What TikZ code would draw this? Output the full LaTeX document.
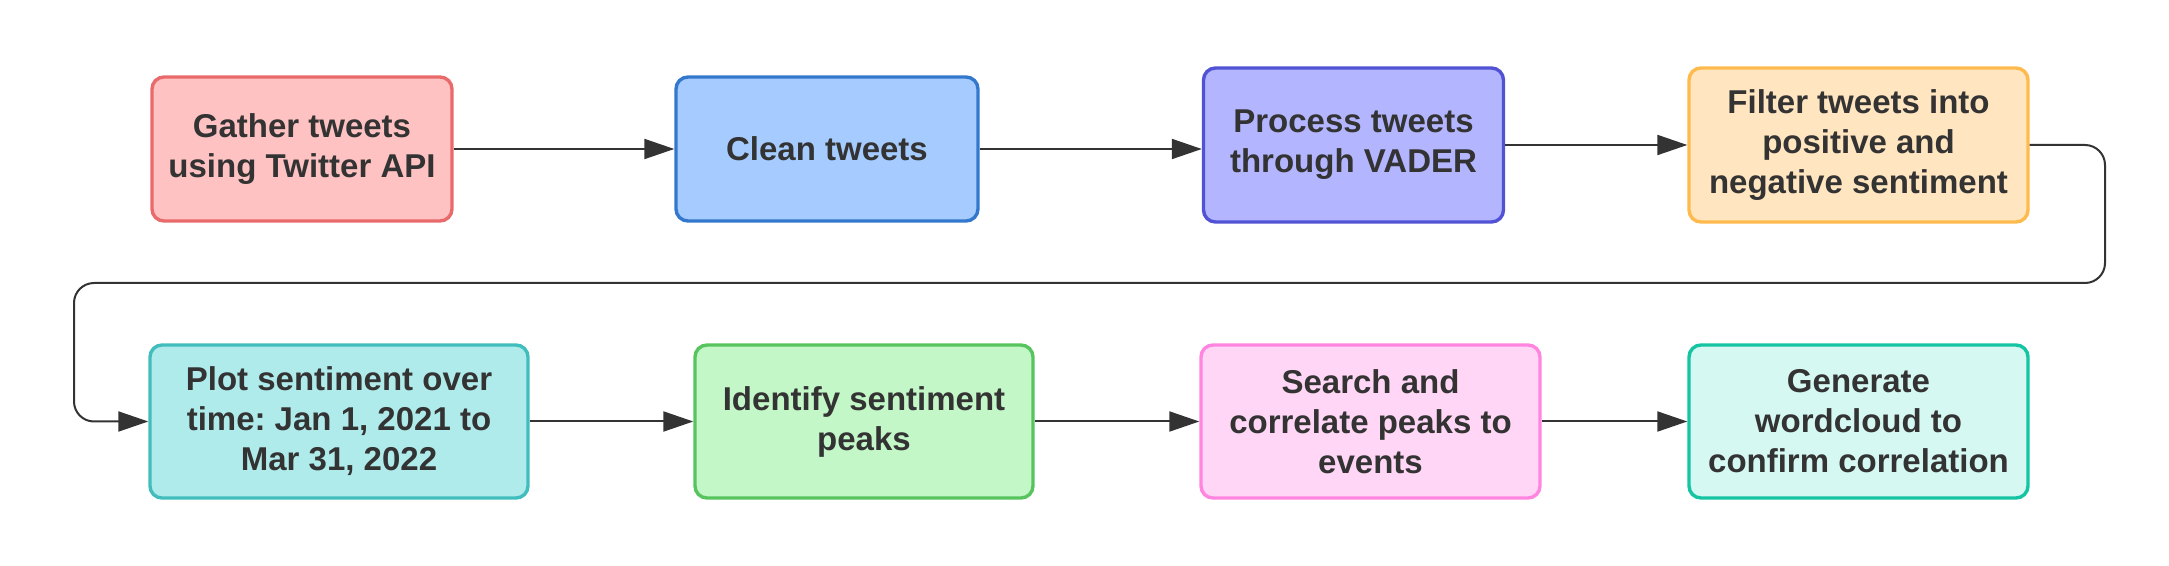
\documentclass[tikz,border=0pt]{standalone}
\usepackage{fontspec}
\setmainfont{Liberation Sans}
\usetikzlibrary{arrows.meta}
\frenchspacing

\definecolor{ink}{HTML}{333333}
\definecolor{redline}{HTML}{E86A6A}
\definecolor{redfill}{HTML}{FFC2C2}
\definecolor{blueline}{HTML}{3378CC}
\definecolor{bluefill}{HTML}{A6CCFF}
\definecolor{violetline}{HTML}{5252D4}
\definecolor{violetfill}{HTML}{B3B5FF}
\definecolor{orangeline}{HTML}{FFBA4D}
\definecolor{orangefill}{HTML}{FFE5C0}
\definecolor{tealline}{HTML}{42BDBD}
\definecolor{tealfill}{HTML}{B0EBEB}
\definecolor{greenline}{HTML}{57C45E}
\definecolor{greenfill}{HTML}{C3F7C8}
\definecolor{pinkline}{HTML}{FF85E0}
\definecolor{pinkfill}{HTML}{FFD6F5}
\definecolor{mintline}{HTML}{14C4A2}
\definecolor{mintfill}{HTML}{D6F8F2}

\tikzset{
  box/.style={draw, rounded corners=6pt, line width=1.7pt, align=center,
    text=ink, inner sep=0pt, font=\fontsize{16.5}{20}\selectfont\bfseries},
  link/.style={-{Triangle[length=15pt,width=10pt]}, line width=1pt, draw=ink}
}

\begin{document}
\begin{tikzpicture}[x=0.5pt,y=-0.5pt]
\useasboundingbox (0,0) rectangle (2169,566);
% first row
\node[box, draw=redline, fill=redfill, minimum width=150pt, minimum height=72pt] (a) at (302,149) {Gather tweets\\using Twitter API};
\node[box, draw=blueline, fill=bluefill, minimum width=151pt, minimum height=72pt] (b) at (827,149) {Clean tweets};
\node[box, draw=violetline, fill=violetfill, minimum width=150pt, minimum height=77pt] (c) at (1353.5,145) {Process tweets\\through VADER};
\node[box, draw=orangeline, fill=orangefill, minimum width=169.5pt, minimum height=77pt] (d) at (1858.5,145) {Filter tweets into\\positive and\\negative sentiment};
% second row
\node[box, draw=tealline, fill=tealfill, minimum width=189pt, minimum height=76.5pt] (e) at (339,421.5) {Plot sentiment over\\time: Jan 1, 2021 to\\Mar 31, 2022};
\node[box, draw=greenline, fill=greenfill, minimum width=169pt, minimum height=76.5pt] (f) at (864,421.5) {Identify sentiment\\peaks};
\node[box, draw=pinkline, fill=pinkfill, minimum width=169.5pt, minimum height=76.5pt] (g) at (1370.5,421.5) {Search and\\correlate peaks to\\events};
\node[box, draw=mintline, fill=mintfill, minimum width=169.5pt, minimum height=76.5pt] (h) at (1858.5,421.5) {Generate\\wordcloud to\\confirm correlation};
% connectors
\coordinate (turnR) at (2105,283);
\coordinate (turnL) at (74,283);
\draw[link] (a.east) -- (b.west);
\draw[link] (b.east) -- (b.east -| c.west);
\draw[link] (c.east) -- (d.west);
\draw[link, rounded corners=10pt] (d.east) -| (turnR) -- (turnL) |- (e.west);
\draw[link] (e.east) -- (f.west);
\draw[link] (f.east) -- (g.west);
\draw[link] (g.east) -- (h.west);
\end{tikzpicture}
\end{document}
